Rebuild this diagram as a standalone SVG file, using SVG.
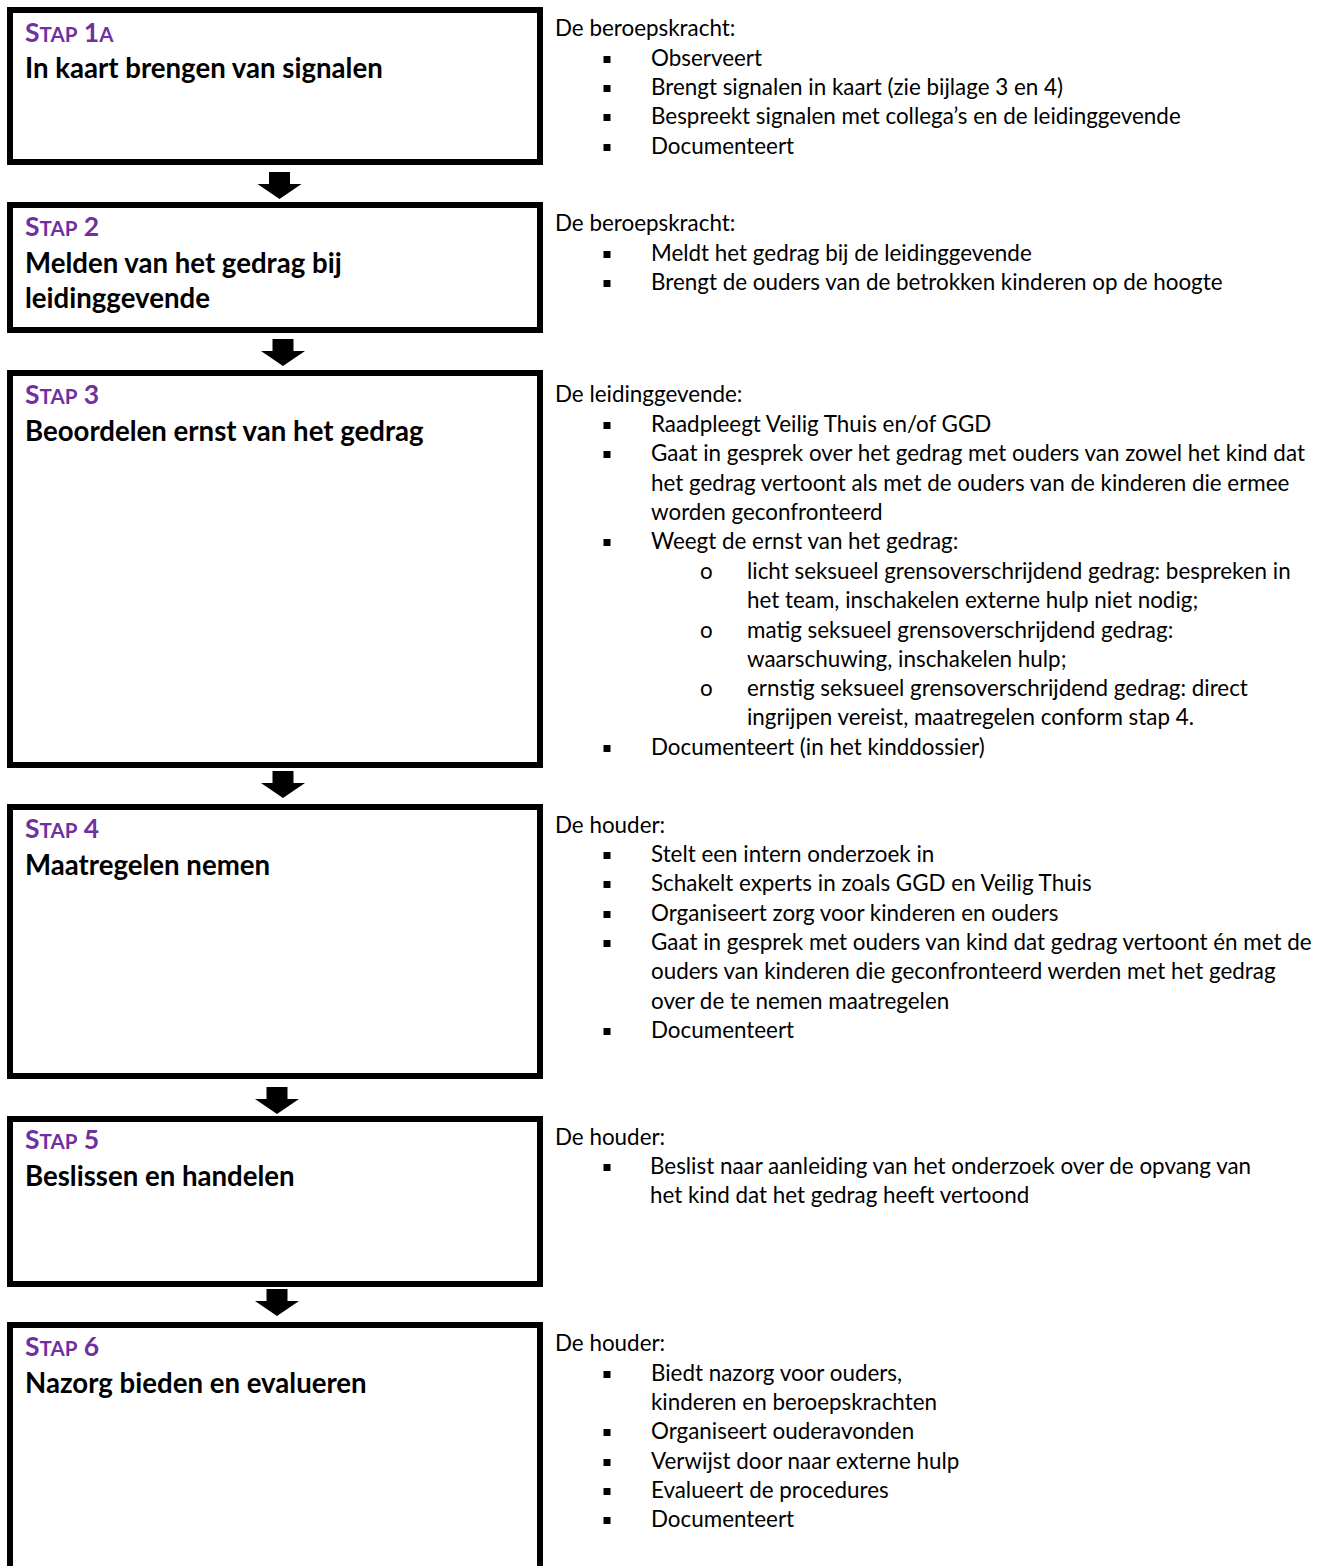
<svg xmlns="http://www.w3.org/2000/svg" width="1328" height="1566" viewBox="0 0 1328 1566">
<style>
.box{fill:#fff;stroke:#000;stroke-width:6}
.stap{font-family:Lato,"Liberation Sans",sans-serif;font-weight:bold;fill:#7030A0;font-size:26.5px}
.sc{font-size:20.5px}
.ttl{font-family:Lato,"Liberation Sans",sans-serif;font-weight:bold;fill:#000;font-size:27.6px}
.t{font-family:Lato,"Liberation Sans",sans-serif;fill:#000;font-size:22.4px}
.arrow{fill:#000}
</style>
<defs>
<rect id="sq" x="-3.5" y="-10" width="7" height="7" fill="#000"/>
<path id="arr" d="M-10.5,0 H10.5 V12 H22 L0,27 L-22,12 H-10.5 Z"/>
</defs>
<rect width="1328" height="1566" fill="#fff"/>

<g id="connectors" class="arrow">
<use href="#arr" x="279.5" y="172"/>
<use href="#arr" x="283" y="339"/>
<use href="#arr" x="283" y="771"/>
<use href="#arr" x="277" y="1087"/>
<use href="#arr" x="277" y="1289"/>
</g>

<g id="stap1">
<rect class="box" x="10" y="10" width="530" height="152"/>
<text class="stap" x="25" y="42">S<tspan class="sc">TAP</tspan> 1<tspan class="sc">A</tspan></text>
<text class="ttl" x="25" y="78">In kaart brengen van signalen</text>
</g>
<g id="stap1-text">
<text class="t" x="555" y="36">De beroepskracht:</text>
<use href="#sq" x="607" y="66"/><text class="t" x="651" y="66">Observeert</text>
<use href="#sq" x="607" y="95"/><text class="t" x="651" y="95">Brengt signalen in kaart (zie bijlage 3 en 4)</text>
<use href="#sq" x="607" y="124"/><text class="t" x="651" y="124">Bespreekt signalen met collega’s en de leidinggevende</text>
<use href="#sq" x="607" y="154"/><text class="t" x="651" y="154">Documenteert</text>
</g>

<g id="stap2">
<rect class="box" x="10" y="205" width="530" height="125"/>
<text class="stap" x="25" y="236">S<tspan class="sc">TAP</tspan> 2</text>
<text class="ttl" x="25" y="273">Melden van het gedrag bij</text>
<text class="ttl" x="25" y="308">leidinggevende</text>
</g>
<g id="stap2-text">
<text class="t" x="555" y="231">De beroepskracht:</text>
<use href="#sq" x="607" y="261"/><text class="t" x="651" y="261">Meldt het gedrag bij de leidinggevende</text>
<use href="#sq" x="607" y="290"/><text class="t" x="651" y="290">Brengt de ouders van de betrokken kinderen op de hoogte</text>
</g>

<g id="stap3">
<rect class="box" x="10" y="373" width="530" height="392"/>
<text class="stap" x="25" y="404">S<tspan class="sc">TAP</tspan> 3</text>
<text class="ttl" x="25" y="441">Beoordelen ernst van het gedrag</text>
</g>
<g id="stap3-text">
<text class="t" x="555" y="402">De leidinggevende:</text>
<use href="#sq" x="607" y="432"/><text class="t" x="651" y="432">Raadpleegt Veilig Thuis en/of GGD</text>
<use href="#sq" x="607" y="461"/><text class="t" x="651" y="461">Gaat in gesprek over het gedrag met ouders van zowel het kind dat</text>
<text class="t" x="651" y="491">het gedrag vertoont als met de ouders van de kinderen die ermee</text>
<text class="t" x="651" y="520">worden geconfronteerd</text>
<use href="#sq" x="607" y="549"/><text class="t" x="651" y="549">Weegt de ernst van het gedrag:</text>
<text class="t" x="700" y="579">o</text><text class="t" x="747" y="579">licht seksueel grensoverschrijdend gedrag: bespreken in</text>
<text class="t" x="747" y="608">het team, inschakelen externe hulp niet nodig;</text>
<text class="t" x="700" y="638">o</text><text class="t" x="747" y="638">matig seksueel grensoverschrijdend gedrag:</text>
<text class="t" x="747" y="667">waarschuwing, inschakelen hulp;</text>
<text class="t" x="700" y="696">o</text><text class="t" x="747" y="696">ernstig seksueel grensoverschrijdend gedrag: direct</text>
<text class="t" x="747" y="725">ingrijpen vereist, maatregelen conform stap 4.</text>
<use href="#sq" x="607" y="755"/><text class="t" x="651" y="755">Documenteert (in het kinddossier)</text>
</g>

<g id="stap4">
<rect class="box" x="10" y="807" width="530" height="269"/>
<text class="stap" x="25" y="838">S<tspan class="sc">TAP</tspan> 4</text>
<text class="ttl" x="25" y="875">Maatregelen nemen</text>
</g>
<g id="stap4-text">
<text class="t" x="555" y="833">De houder:</text>
<use href="#sq" x="607" y="862"/><text class="t" x="651" y="862">Stelt een intern onderzoek in</text>
<use href="#sq" x="607" y="891"/><text class="t" x="651" y="891">Schakelt experts in zoals GGD en Veilig Thuis</text>
<use href="#sq" x="607" y="921"/><text class="t" x="651" y="921">Organiseert zorg voor kinderen en ouders</text>
<use href="#sq" x="607" y="950"/><text class="t" x="651" y="950">Gaat in gesprek met ouders van kind dat gedrag vertoont én met de</text>
<text class="t" x="651" y="979">ouders van kinderen die geconfronteerd werden met het gedrag</text>
<text class="t" x="651" y="1009">over de te nemen maatregelen</text>
<use href="#sq" x="607" y="1038"/><text class="t" x="651" y="1038">Documenteert</text>
</g>

<g id="stap5">
<rect class="box" x="10" y="1119" width="530" height="165"/>
<text class="stap" x="25" y="1149">S<tspan class="sc">TAP</tspan> 5</text>
<text class="ttl" x="25" y="1186">Beslissen en handelen</text>
</g>
<g id="stap5-text">
<text class="t" x="555" y="1145">De houder:</text>
<use href="#sq" x="607" y="1174"/><text class="t" x="650" y="1174">Beslist naar aanleiding van het onderzoek over de opvang van</text>
<text class="t" x="650" y="1203">het kind dat het gedrag heeft vertoond</text>
</g>

<g id="stap6">
<rect class="box" x="10" y="1325" width="530" height="260"/>
<text class="stap" x="25" y="1356">S<tspan class="sc">TAP</tspan> 6</text>
<text class="ttl" x="25" y="1393">Nazorg bieden en evalueren</text>
</g>
<g id="stap6-text">
<text class="t" x="555" y="1351">De houder:</text>
<use href="#sq" x="607" y="1381"/><text class="t" x="651" y="1381">Biedt nazorg voor ouders,</text>
<text class="t" x="651" y="1410">kinderen en beroepskrachten</text>
<use href="#sq" x="607" y="1439"/><text class="t" x="651" y="1439">Organiseert ouderavonden</text>
<use href="#sq" x="607" y="1469"/><text class="t" x="651" y="1469">Verwijst door naar externe hulp</text>
<use href="#sq" x="607" y="1498"/><text class="t" x="651" y="1498">Evalueert de procedures</text>
<use href="#sq" x="607" y="1527"/><text class="t" x="651" y="1527">Documenteert</text>
</g>
</svg>
